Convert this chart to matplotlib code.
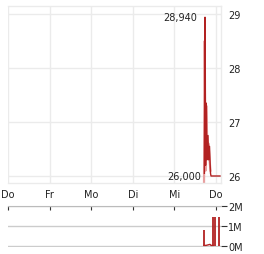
import matplotlib
matplotlib.use("Agg")
import matplotlib.pyplot as plt

# ---- data (x in trading days from first "Do") ----
day_labels = ["Do", "Fr", "Mo", "Di", "Mi", "Do"]
day_pos = [0, 1, 2, 3, 4, 5]

price_x = [4.72, 4.736, 4.75, 4.765, 4.784, 4.808, 4.822, 4.844, 4.868, 4.88, 5.096]
price_y = [26.05, 28.94, 26.2, 27.35, 26.3, 26.75, 26.3, 26.55, 26.05, 26.0, 26.0]

price2_x = [4.712, 4.728, 4.748, 4.767, 4.796, 4.82, 4.844, 4.868]
price2_y = [25.85, 28.5, 26.1, 27.3, 26.4, 26.6, 26.3, 26.1]

max_label = "28,940"
min_label = "26,000"
max_val = 28.94
min_val = 26.0

vol_x = [4.712, 4.93, 4.976, 5.084]
vol_y = [0.8e6, 1.45e6, 1.45e6, 1.45e6]
vol_base_x = [4.712, 4.76, 4.856, 4.88, 4.93]
vol_base_y = [0.03e6, 0.03e6, 0.08e6, 0.03e6, 0.03e6]

price_ticks = [26, 27, 28, 29]
vol_ticks = [0, 1e6, 2e6]
vol_tick_labels = ["0M", "1M", "2M"]

W, H = 264, 255
fig = plt.figure(figsize=(W / 100, H / 100), dpi=100)

def fx(px):
    return px / W

def fy(py):
    return 1 - py / H

grid_c = "#ebebeb"
txt_c = "#222222"
red = "#b22222"
fs = 7

# main price axes
ax = fig.add_axes([fx(8), fy(184), fx(221) - fx(8), fy(7) - fy(184)])
ax.set_xlim(0, (221 - 8) / 41.6)
ax.set_ylim(26 - 7 / 54, 26 + 170 / 54)
for s in ax.spines.values():
    s.set_color(grid_c)
    s.set_linewidth(1)
ax.spines["left"].set_visible(False)
ax.set_xticks(day_pos)
ax.set_xticklabels(day_labels, fontsize=fs, color=txt_c)
ax.set_yticks(price_ticks)
ax.set_yticklabels([str(t) for t in price_ticks], fontsize=fs, color=txt_c)
ax.yaxis.tick_right()
ax.tick_params(axis="both", length=0)
ax.tick_params(axis="y", pad=5)
ax.tick_params(axis="x", pad=4)
ax.grid(True, color=grid_c, linewidth=1)
ax.set_axisbelow(True)

ax.plot(price2_x, price2_y, color="#e8a0a0", linewidth=1.6, zorder=2)
ax.plot(price_x, price_y, color=red, linewidth=1.0, zorder=3)

ax.annotate(max_label, xy=(price_x[1], max_val), xytext=(-6, 0),
            textcoords="offset points", ha="right", va="center",
            fontsize=fs, color=txt_c)
ax.annotate(min_label, xy=(price_x[0], min_val), xytext=(-2.5, 0),
            textcoords="offset points", ha="right", va="center",
            fontsize=fs, color=txt_c)

# volume axes
vpad = 0.05e6
vx = fig.add_axes([fx(8), fy(248), fx(221) - fx(8), fy(207) - fy(248)])
vx.set_xlim(ax.get_xlim())
vx.set_ylim(-vpad, 2e6)
for k in ["left", "right", "bottom"]:
    vx.spines[k].set_visible(False)
vx.spines["top"].set_color("#bbbbbb")
vx.set_xticks(day_pos)
vx.xaxis.tick_top()
vx.tick_params(axis="x", direction="in", length=3, color="#333333", labeltop=False)
vx.set_yticks(vol_ticks)
vx.set_yticklabels(vol_tick_labels, fontsize=fs, color=txt_c)
vx.yaxis.tick_right()
vx.tick_params(axis="y", length=4, color="#333333", pad=1)
vx.grid(True, axis="y", color="#cccccc", linewidth=1)
vx.set_axisbelow(True)
vx.plot(vol_base_x, vol_base_y, color=red, linewidth=1.0)
vx.vlines(vol_x, 0, vol_y, color=red, linewidth=1.3)

fig.savefig("out.png", dpi=100)
